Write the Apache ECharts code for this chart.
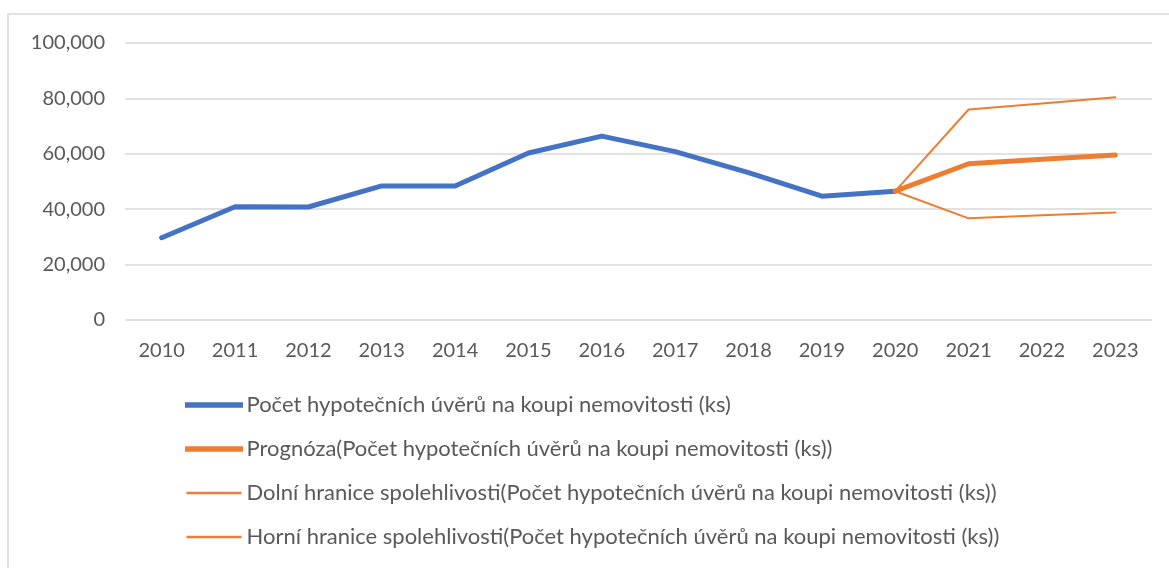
<!DOCTYPE html>
<html>
<head>
<meta charset="utf-8">
<script src="https://cdn.jsdelivr.net/npm/echarts@6/dist/echarts.min.js"></script>
<style>
  html, body { margin: 0; padding: 0; background: #fff; }
  #chart { width: 1169px; height: 568px; }
</style>
</head>
<body>
<div id="chart"></div>
<script>
// data
var years = ['2010', '2011', '2012', '2013', '2014', '2015', '2016', '2017', '2018', '2019', '2020', '2021', '2022', '2023'];
var pocet = [29700, 40900, 40800, 48400, 48400, 60300, 66400, 60800, 53200, 44700, 46500, null, null, null];
var prognoza = [null, null, null, null, null, null, null, null, null, null, 46500, 56400, 58000, 59600];
var dolni = [null, null, null, null, null, null, null, null, null, null, 46500, 36700, 37800, 38800];
var horni = [null, null, null, null, null, null, null, null, null, null, 46500, 76000, 78200, 80400];
var names = [
  'Počet hypotečních úvěrů na koupi nemovitosti (ks)',
  'Prognóza(Počet hypotečních úvěrů na koupi nemovitosti (ks))',
  'Dolní hranice spolehlivosti(Počet hypotečních úvěrů na koupi nemovitosti (ks))',
  'Horní hranice spolehlivosti(Počet hypotečních úvěrů na koupi nemovitosti (ks))'
];

var blue = '#4472C4';
var orange = '#ED7D31';
var font = 'Lato';

var chart = echarts.init(document.getElementById('chart'));

function lineSeries(name, data, color, width) {
  return {
    name: name,
    type: 'line',
    data: data,
    symbol: 'none',
    lineStyle: { color: color, width: width, cap: 'round', join: 'round' },
    itemStyle: { color: color },
    emphasis: { disabled: true }
  };
}

// legend icons: thin rect, thick ones get a border of the same colour
function legendItem(name, color, thick) {
  return {
    name: name,
    icon: 'rect',
    itemStyle: { color: color, borderColor: color, borderWidth: thick ? 3 : 0 }
  };
}

var option = {
  animation: false,
  backgroundColor: '#fff',
  textStyle: { fontFamily: font },
  graphic: [{
    type: 'rect',
    shape: { x: 8, y: 14, width: 1200, height: 600 },
    style: { fill: 'none', stroke: '#d9d9d9', lineWidth: 1.5 },
    silent: true
  }],
  grid: { left: 125, right: 17, top: 43, bottom: 248 },
  legend: {
    orient: 'vertical',
    left: 185,
    top: 393,
    padding: 0,
    height: 170,
    itemWidth: 55,
    itemHeight: 2.5,
    itemGap: 20,
    textStyle: { color: '#595959', fontSize: 22, lineHeight: 24, fontFamily: font },
    data: [
      legendItem(names[0], blue, true),
      legendItem(names[1], orange, true),
      legendItem(names[2], orange, false),
      legendItem(names[3], orange, false)
    ]
  },
  xAxis: {
    type: 'category',
    data: years,
    boundaryGap: true,
    axisLine: { show: false },
    axisTick: { show: false },
    axisLabel: { color: '#595959', fontSize: 20, fontFamily: font, margin: 21 }
  },
  yAxis: {
    type: 'value',
    min: 0,
    max: 100000,
    interval: 20000,
    axisLine: { show: false },
    axisTick: { show: false },
    splitLine: { lineStyle: { color: '#d9d9d9', width: 1.5 } },
    axisLabel: {
      color: '#595959',
      fontSize: 20,
      fontFamily: font,
      margin: 20,
      formatter: function (v) { return v.toLocaleString('en-US'); }
    }
  },
  series: [
    lineSeries(names[0], pocet, blue, 5),
    lineSeries(names[1], prognoza, orange, 5),
    lineSeries(names[2], dolni, orange, 2),
    lineSeries(names[3], horni, orange, 2)
  ]
};

chart.setOption(option);
</script>
</body>
</html>
